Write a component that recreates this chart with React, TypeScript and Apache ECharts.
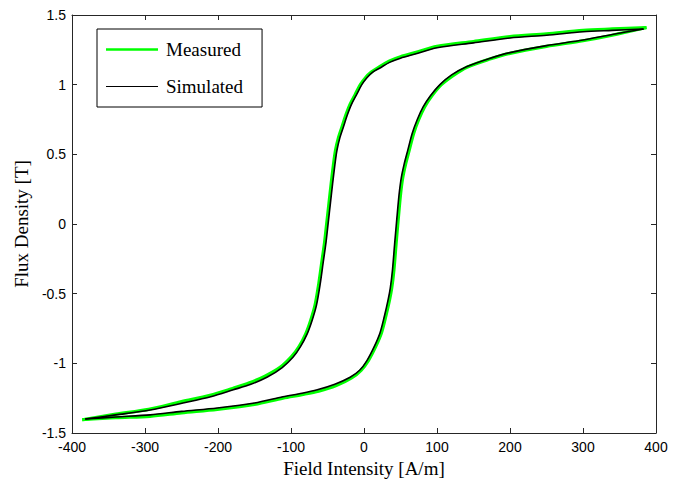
import React, { useEffect, useRef } from "react";
import * as echarts from "echarts";

// Simulated loop: descending (upper) branch, from +tip to -tip
const simUpperH = [383, 340, 300, 250, 200, 150, 100, 70, 50, 35, 22, 12, 4, -3, -10, -17, -23, -28, -33, -37, -40, -43, -46, -49, -52, -56, -60, -65, -71, -78, -87, -97, -112, -133, -155, -179, -210, -248, -293, -340, -382];
const simUpperB = [1.40, 1.39, 1.38, 1.355, 1.335, 1.30, 1.265, 1.22, 1.19, 1.16, 1.12, 1.09, 1.05, 1.0, 0.93, 0.86, 0.78, 0.70, 0.62, 0.53, 0.42, 0.29, 0.15, 0.01, -0.13, -0.28, -0.43, -0.58, -0.69, -0.79, -0.88, -0.955, -1.03, -1.10, -1.15, -1.19, -1.24, -1.285, -1.335, -1.37, -1.40];
// Simulated loop: ascending (lower) branch, from -tip to +tip
const simLowerH = [-382, -340, -293, -250, -201, -150, -111, -85, -64, -40, -19, -6, 4, 14, 22, 28, 33, 36, 39, 42, 45, 48, 51, 55, 60, 66, 73, 81, 91, 104, 120, 141, 170, 200, 250, 300, 340, 383];
const simLowerB = [-1.40, -1.385, -1.37, -1.345, -1.32, -1.285, -1.24, -1.215, -1.19, -1.15, -1.10, -1.05, -0.98, -0.88, -0.78, -0.66, -0.545, -0.46, -0.33, -0.14, 0.04, 0.21, 0.33, 0.43, 0.53, 0.65, 0.75, 0.84, 0.92, 1.0, 1.07, 1.13, 1.185, 1.23, 1.28, 1.32, 1.36, 1.40];

// Measured loop: descending branch
const measUpperH = [387, 340, 300, 250, 200, 150, 100, 70, 50, 35, 20, 10, 2, -5, -12, -19, -25, -30, -35, -39, -42, -45, -48, -51, -54, -58, -62, -67, -73, -80, -89, -99, -114, -135, -157, -180, -211, -250, -295, -340, -386];
const measUpperB = [1.41, 1.40, 1.39, 1.365, 1.345, 1.31, 1.275, 1.23, 1.20, 1.17, 1.125, 1.09, 1.05, 1.0, 0.93, 0.86, 0.78, 0.70, 0.62, 0.53, 0.42, 0.29, 0.15, 0.01, -0.13, -0.28, -0.43, -0.58, -0.69, -0.79, -0.88, -0.95, -1.025, -1.09, -1.14, -1.18, -1.23, -1.275, -1.33, -1.365, -1.405];
// Measured loop: ascending branch
const measLowerH = [-386, -340, -293, -250, -201, -150, -111, -85, -62, -38, -17, -4, 6, 16, 24, 30, 35, 38, 41, 44, 47, 50, 53, 57, 62, 68, 75, 83, 93, 106, 122, 141, 170, 200, 250, 300, 340, 387];
const measLowerB = [-1.405, -1.39, -1.38, -1.355, -1.33, -1.295, -1.25, -1.225, -1.20, -1.16, -1.105, -1.05, -0.98, -0.88, -0.78, -0.66, -0.545, -0.46, -0.33, -0.14, 0.04, 0.21, 0.33, 0.43, 0.53, 0.65, 0.75, 0.84, 0.92, 1.0, 1.065, 1.125, 1.18, 1.225, 1.275, 1.315, 1.355, 1.41];

const xTicks = { min: -400, max: 400, interval: 100 };
const yTicks = { min: -1.5, max: 1.5, interval: 0.5 };

const seriesNames = ["Measured", "Simulated"];
const xTitle = "Field Intensity [A/m]";
const yTitle = "Flux Density [T]";

const zip = (h: number[], b: number[]) => h.map((v, i) => [v, b[i]]);

export default function App() {
  const ref = useRef<HTMLDivElement>(null);
  useEffect(() => {
    if (!ref.current) return;
    const chart = echarts.init(ref.current, undefined, { renderer: "svg" });
    const axisColor = "#262626";
    const tickLabel = { fontFamily: "Liberation Sans", fontSize: 14, color: "#000" };
    const titleStyle = { fontFamily: "Liberation Serif", fontSize: 19, color: "#000" };
    const mkLine = (name: string, data: number[][], color: string, width: number) => ({
      type: "line",
      name,
      data,
      symbol: "none",
      showSymbol: false,
      smooth: 0.3,
      lineStyle: { color, width },
      itemStyle: { color },
      emphasis: { disabled: true },
    });
    chart.setOption({
      animation: false,
      backgroundColor: "#fff",
      grid: { left: 72, right: 25, top: 15, bottom: 47, containLabel: false, outerBoundsMode: "none" },
      legend: {
        left: 97,
        top: 29,
        orient: "vertical",
        data: [
          { name: seriesNames[0], icon: "path://M0 0H52V2.6H0Z", itemStyle: { color: "#00ff00" } },
          { name: seriesNames[1], icon: "path://M0 0H52V1.1H0Z", itemStyle: { color: "#000000" } },
        ],
        itemWidth: 52,
        itemHeight: 14,
        itemGap: 18,
        padding: [11, 19, 11, 9],
        borderColor: "#000",
        borderWidth: 1,
        backgroundColor: "#fff",
        textStyle: { fontFamily: "Liberation Serif", fontSize: 19, color: "#000", padding: [0, 0, 0, 3] },
        selectedMode: false,
      },
      xAxis: [
        {
          type: "value",
          ...xTicks,
          position: "bottom",
          axisLine: { show: true, onZero: false, lineStyle: { color: axisColor } },
          axisTick: { show: true, inside: true, length: 5, lineStyle: { color: axisColor } },
          axisLabel: { ...tickLabel, margin: 7 },
          splitLine: { show: false },
          name: xTitle,
          nameLocation: "middle",
          nameGap: 20,
          nameTextStyle: titleStyle,
        },
        {
          type: "value",
          ...xTicks,
          position: "top",
          axisLine: { show: true, onZero: false, lineStyle: { color: axisColor } },
          axisTick: { show: true, inside: true, length: 5, lineStyle: { color: axisColor } },
          axisLabel: { show: false },
          splitLine: { show: false },
        },
      ],
      yAxis: [
        {
          type: "value",
          ...yTicks,
          position: "left",
          axisLine: { show: true, onZero: false, lineStyle: { color: axisColor } },
          axisTick: { show: true, inside: true, length: 5, lineStyle: { color: axisColor } },
          axisLabel: { ...tickLabel, margin: 6 },
          splitLine: { show: false },
          name: yTitle,
          nameLocation: "middle",
          nameGap: 36,
          nameTextStyle: titleStyle,
        },
        {
          type: "value",
          ...yTicks,
          position: "right",
          axisLine: { show: true, onZero: false, lineStyle: { color: axisColor } },
          axisTick: { show: true, inside: true, length: 5, lineStyle: { color: axisColor } },
          axisLabel: { show: false },
          splitLine: { show: false },
        },
      ],
      series: [
        mkLine(seriesNames[0], zip(measUpperH, measUpperB), "#00ff00", 3.2),
        mkLine(seriesNames[0], zip(measLowerH, measLowerB), "#00ff00", 3.2),
        mkLine(seriesNames[1], zip(simUpperH, simUpperB), "#000000", 1.6),
        mkLine(seriesNames[1], zip(simLowerH, simLowerB), "#000000", 1.6),
      ],
    });
    return () => chart.dispose();
  }, []);
  return (
    <div
      ref={ref}
      style={{ position: "absolute", left: 0, top: 0, width: 681, height: 480 }}
    />
  );
}
